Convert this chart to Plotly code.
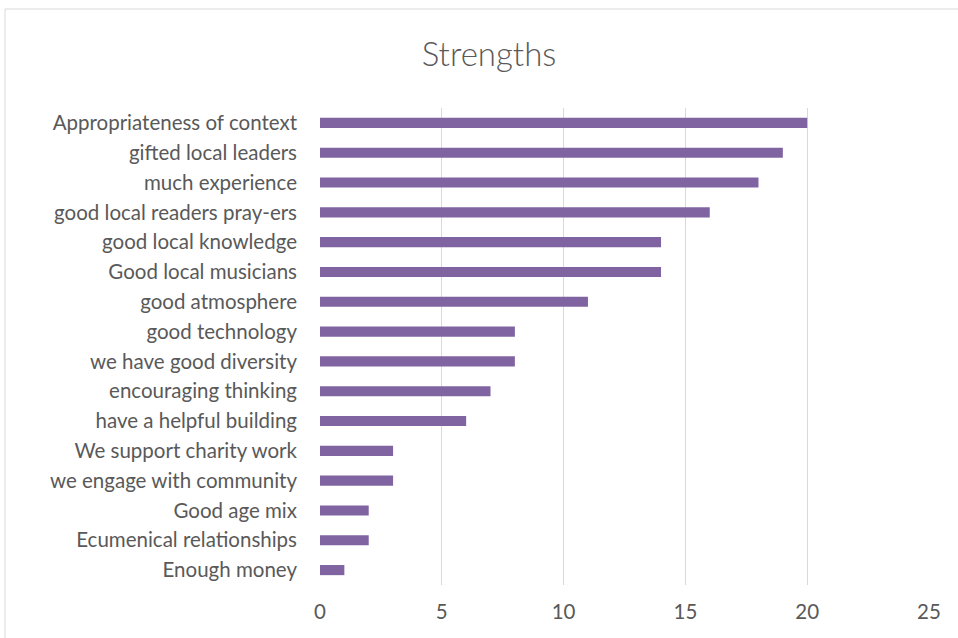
import plotly.graph_objects as go

categories = [
    "Appropriateness of context", "gifted local leaders", "much experience",
    "good local readers pray-ers", "good local knowledge", "Good local musicians",
    "good atmosphere", "good technology", "we have good diversity",
    "encouraging thinking", "have a helpful building", "We support charity work",
    "we engage with community", "Good age mix", "Ecumenical relationships",
    "Enough money",
]
values = [20, 19, 18, 16, 14, 14, 11, 8, 8, 7, 6, 3, 3, 2, 2, 1]
x_ticks = [0, 5, 10, 15, 20, 25]

font_family = "Lato, 'Open Sans', sans-serif"
text_color = "#595959"

fig = go.Figure(go.Bar(
    x=values[::-1], y=categories[::-1], orientation="h",
    marker=dict(color="#8064A2", line=dict(width=0)),
    width=0.34,
))

L, R, T, B = 320, 29, 108, 53
W, H = 958, 638
pw, ph = W - L - R, H - T - B

fig.update_layout(
    width=W, height=H,
    margin=dict(l=L, r=R, t=T, b=B),
    paper_bgcolor="white", plot_bgcolor="white",
    title=dict(text="Strengths", x=489 / W, xanchor="center",
               y=1 - 54 / H, yanchor="middle",
               font=dict(family=font_family, size=33, color=text_color, weight=300)),
    font=dict(family=font_family, color=text_color),
    showlegend=False,
    xaxis=dict(range=[0, 25], tickvals=x_ticks, showgrid=True,
               gridcolor="#d9d9d9", gridwidth=1, zeroline=False,
               showline=False, ticks="", ticklabelstandoff=12,
               tickfont=dict(size=20.5, color=text_color)),
    yaxis=dict(showgrid=False, zeroline=False, showline=False, ticks="",
               ticklabelstandoff=22, range=[-0.5, 15.5],
               tickfont=dict(size=20.5, color=text_color)),
    shapes=[dict(type="rect", xref="paper", yref="paper",
                 x0=(5 - L) / pw, x1=(962 - L) / pw,
                 y0=(H - B - 642) / ph, y1=1 + (T - 9) / ph,
                 line=dict(color="#d9d9d9", width=1), fillcolor="rgba(0,0,0,0)")],
)

fig.write_html("out.html", config={"displayModeBar": False},
               post_script="document.body.style.margin='0';document.body.style.padding='0';")
